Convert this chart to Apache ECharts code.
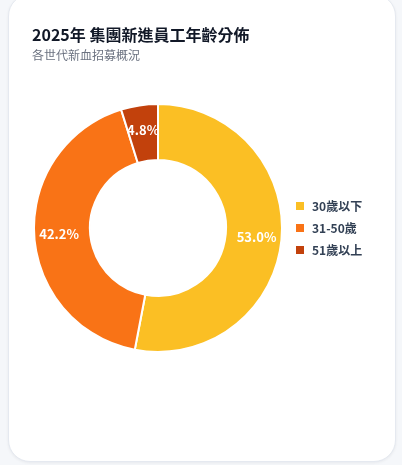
<!DOCTYPE html>
<html><head><meta charset="utf-8">
<script src="https://cdn.jsdelivr.net/npm/echarts@6/dist/echarts.min.js"></script>
<style>
html,body{margin:0;padding:0;width:402px;height:465px;background:#f5f7fa;overflow:hidden;font-family:"Noto Sans","Noto Sans CJK TC",sans-serif;}
#card{position:absolute;left:8px;top:-6px;width:386px;height:466px;background:#fff;border:1px solid #e5e9f0;border-radius:22px;box-shadow:0 1px 3px rgba(15,23,42,0.06);}
#chart{position:absolute;left:0;top:0;width:402px;height:465px;}
</style></head>
<body>
<div id="card"></div>
<div id="chart"></div>
<script>
const categories = ['30歲以下', '31-50歲', '51歲以上'];
const values = [53.0, 42.2, 4.8];
const colors = ['#FBBF24', '#F97316', '#C2410C'];
const titleText = '2025年 集團新進員工年齡分佈';
const subtitleText = '各世代新血招募概況';

const font = '"Noto Sans CJK TC","Noto Sans",sans-serif';
const chart = echarts.init(document.getElementById('chart'), null, {renderer: 'canvas'});
chart.setOption({
  animation: false,
  textStyle: {fontFamily: font},
  title: {
    text: titleText,
    subtext: subtitleText,
    left: 27,
    top: 22,
    itemGap: 6,
    textStyle: {fontSize: 16, fontWeight: 'bold', color: '#111827', fontFamily: font},
    subtextStyle: {fontSize: 12, color: '#6b7280', fontFamily: font}
  },
  legend: {
    orient: 'vertical',
    left: 289,
    top: 195,
    itemWidth: 10,
    itemHeight: 10,
    itemGap: 10,
    icon: 'rect',
    textStyle: {fontSize: 12, fontWeight: 'bold', color: '#334155', fontFamily: font, padding: [0, 0, 0, 2]},
    data: categories
  },
  series: [{
    type: 'pie',
    center: [158, 228],
    radius: [68, 124],
    startAngle: 90,
    itemStyle: {borderColor: '#ffffff', borderWidth: 2},
    label: {
      show: true,
      position: 'inside',
      color: '#ffffff',
      fontSize: 13,
      fontWeight: 'bold',
      fontFamily: font,
      formatter: p => p.value.toFixed(1) + '%'
    },
    labelLine: {show: false},
    data: categories.map((c, i) => ({name: c, value: values[i], itemStyle: {color: colors[i]}}))
  }]
});
</script>
</body></html>
